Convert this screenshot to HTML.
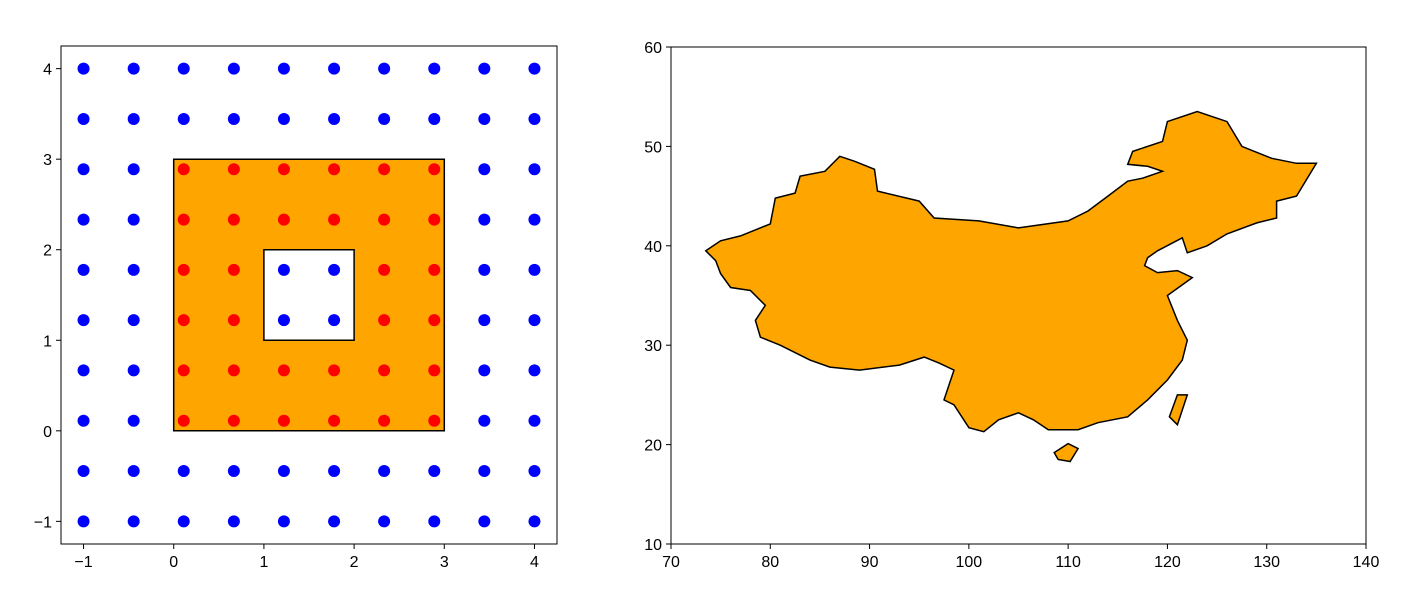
<!DOCTYPE html>
<html><head><meta charset="utf-8"><style>
body{margin:0;background:#fff;width:1423px;height:608px;overflow:hidden}
svg text{font-family:"Liberation Sans","DejaVu Sans",sans-serif;font-size:16px;fill:#000}
</style></head><body>
<svg id="c" width="1423" height="608"></svg>
<script>
const gridVals=[-1,-0.444,0.111,0.667,1.222,1.778,2.333,2.889,3.444,4];
const leftTicks=[-1,0,1,2,3,4];
const rightXTicks=[70,80,90,100,110,120,130,140];
const rightYTicks=[10,20,30,40,50,60];
const outer=[[0,0],[3,0],[3,3],[0,3]];
const hole=[[1,1],[2,1],[2,2],[1,2]];
const china=[[73.5,39.5],[75,40.5],[77,41],[80,42.2],[80.5,44.8],[82.5,45.3],[83,47],[85.5,47.5],[87,49],[88.5,48.5],[90.5,47.7],[90.8,45.5],[95,44.5],[96.5,42.8],[101,42.5],[105,41.8],[110,42.5],[112,43.5],[114,45],[116,46.5],[117.5,46.8],[119.5,47.5],[118,48],[116,48.2],[116.5,49.5],[119.5,50.5],[120,52.5],[123,53.5],[126,52.5],[127.5,50],[130.5,48.8],[133,48.3],[135,48.3],[133,45],[131,44.5],[131,42.8],[129,42.3],[126,41.2],[124,40],[122,39.3],[121.5,40.8],[119,39.5],[118,38.8],[117.7,38],[119,37.3],[121,37.5],[122.5,36.8],[120,35],[121,32.5],[122,30.5],[121.5,28.5],[120,26.5],[118,24.5],[116,22.8],[113,22.2],[111,21.5],[109.5,21.5],[108,21.5],[106.5,22.5],[105,23.2],[103,22.5],[101.5,21.3],[100,21.7],[98.5,24],[97.5,24.5],[98.5,27.5],[97,28.2],[95.5,28.8],[93,28],[89,27.5],[86,27.8],[84,28.5],[81,30],[79,30.8],[78.5,32.5],[79.5,34],[78,35.5],[76,35.8],[75,37.2],[74.5,38.5]];
const hainan=[[108.6,19.2],[110,20.1],[111,19.6],[110.2,18.3],[109,18.5]];
const taiwan=[[121,25],[122,25],[121,22],[120.2,22.8]];

const S=document.getElementById('c');const NS='http://www.w3.org/2000/svg';
function mk(t,a,p){const e=document.createElementNS(NS,t);for(const k in a)e.setAttribute(k,a[k]);(p||S).appendChild(e);return e;}
const L={x0:61,x1:557,y0:46,y1:544,xmin:-1.25,xmax:4.25,ymin:-1.25,ymax:4.25};
const lx=v=>L.x0+(v-L.xmin)/(L.xmax-L.xmin)*(L.x1-L.x0);
const ly=v=>L.y1-(v-L.ymin)/(L.ymax-L.ymin)*(L.y1-L.y0);
const pp=(pts,fx,fy)=>'M'+pts.map(p=>fx(p[0]).toFixed(1)+','+fy(p[1]).toFixed(1)).join('L')+'Z';
let e=mk('path',{d:pp(outer,lx,ly)+pp(hole,lx,ly),fill:'orange','fill-rule':'evenodd',stroke:'#000','stroke-width':1.5});


const inside=(x,y)=>x>0&&x<3&&y>0&&y<3&&!(x>1&&x<2&&y>1&&y<2);
gridVals.forEach(gx=>gridVals.forEach(gy=>{
 const d=mk('circle',{cx:lx(gx),cy:ly(gy),r:6,fill:inside(gx,gy)?'#ff0000':'#0000ff'});
 
 
}));
e=mk('rect',{x:L.x0,y:L.y0,width:L.x1-L.x0,height:L.y1-L.y0,fill:'none',stroke:'#000','stroke-width':1});


leftTicks.forEach(t=>{
 mk('line',{x1:lx(t),x2:lx(t),y1:L.y1,y2:L.y1+5,stroke:'#000'});
 let tx=mk('text',{x:lx(t),y:L.y1+23,'text-anchor':'middle'});tx.textContent=t<0?'\u2212'+(-t):t;
 
 
 mk('line',{x1:L.x0-5,x2:L.x0,y1:ly(t),y2:ly(t),stroke:'#000'});
 tx=mk('text',{x:L.x0-9,y:ly(t)+6,'text-anchor':'end'});tx.textContent=t<0?'\u2212'+(-t):t;
 
 
});
const R={x0:671,x1:1366,y0:47,y1:544,xmin:70,xmax:140,ymin:10,ymax:60};
const rx=v=>R.x0+(v-R.xmin)/(R.xmax-R.xmin)*(R.x1-R.x0);
const ry=v=>R.y1-(v-R.ymin)/(R.ymax-R.ymin)*(R.y1-R.y0);
[['china-mainland',china],['hainan',hainan],['taiwan',taiwan]].forEach(([n,p])=>{
 const f=mk('path',{d:pp(p,rx,ry),fill:'orange',stroke:'#000','stroke-width':1.5});
 
 
});
e=mk('rect',{x:R.x0,y:R.y0,width:R.x1-R.x0,height:R.y1-R.y0,fill:'none',stroke:'#000','stroke-width':1});


rightXTicks.forEach(t=>{
 mk('line',{x1:rx(t),x2:rx(t),y1:R.y1,y2:R.y1+5,stroke:'#000'});
 const tx=mk('text',{x:rx(t),y:R.y1+23,'text-anchor':'middle'});tx.textContent=t;
 
 
});
rightYTicks.forEach(t=>{
 mk('line',{x1:R.x0-5,x2:R.x0,y1:ry(t),y2:ry(t),stroke:'#000'});
 const tx=mk('text',{x:R.x0-9,y:ry(t)+6,'text-anchor':'end'});tx.textContent=t;
 
 
});
</script>
</body></html>
